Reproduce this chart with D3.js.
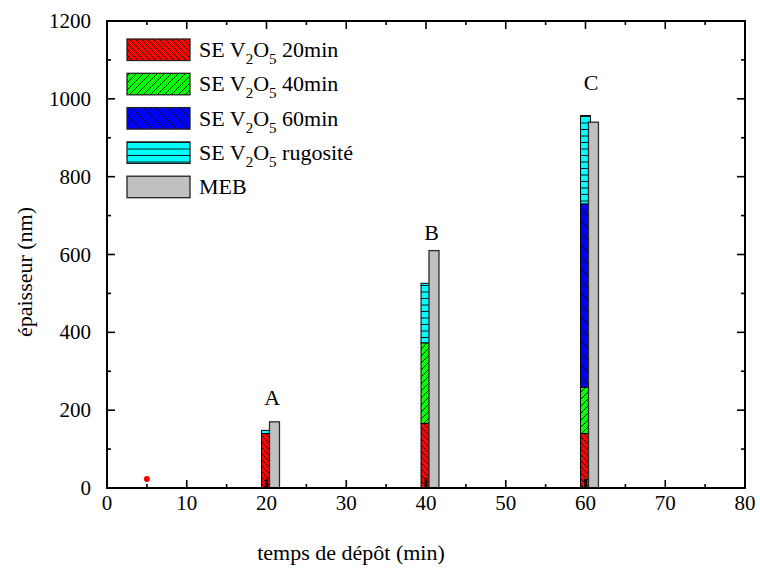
<!DOCTYPE html>
<html><head><meta charset="utf-8">
<script src="https://cdn.jsdelivr.net/npm/d3@7/dist/d3.min.js"></script>
<style>body{margin:0;background:#fff;}</style></head>
<body><svg id="c" width="760" height="570"></svg>
<script>
// ---- data ----
const times = [20, 40, 60];
const labels = ["A", "B", "C"];
const se20 = [140, 166, 140];
const se40 = [0, 207, 119];
const se60 = [0, 0, 471];
const rugosite = [8, 153, 227];
const meb = [170, 610, 940];
const innerSmall = [23, 25, 22];
const dotX = [5];
const dotY = [23];
const labelY = [234, 658, 1044];
const xTicks = [0, 10, 20, 30, 40, 50, 60, 70, 80];
const yTicks = [0, 200, 400, 600, 800, 1000, 1200];
const seriesNames = ["20min", "40min", "60min", "rugosité"];

const FONT = "Liberation Serif";
const svg = d3.select("#c");
const L = 107, R = 745, T = 21, B = 488;
const x = d3.scaleLinear().domain([0, 80]).range([L, R]);
const y = d3.scaleLinear().domain([0, 1200]).range([B, T]);
function txt(sel) { return sel.attr("font-family", FONT).style("font-family", "'Liberation Serif'"); }

// patterns
const defs = svg.append("defs");
function hatch(id, color, size, dir) {
  const p = defs.append("pattern").attr("id", id).attr("patternUnits", "userSpaceOnUse")
    .attr("width", size).attr("height", size);
  p.append("rect").attr("width", size).attr("height", size).attr("fill", color);
  const s = size;
  let d;
  if (dir === "back") d = `M0,0L${s},${s}M${-s/2},${s/2}L${s/2},${3*s/2}M${s/2},${-s/2}L${3*s/2},${s/2}`;
  else if (dir === "fwd") d = `M0,${s}L${s},0M${-s/2},${s/2}L${s/2},${-s/2}M${s/2},${3*s/2}L${3*s/2},${s/2}`;
  else d = `M0,${s-0.5}L${s},${s-0.5}`;
  p.append("path").attr("d", d).attr("stroke", "#000").attr("stroke-width", 0.9);
}
hatch("pRed", "#ff0000", 6, "back");
hatch("pGreen", "#00ff00", 7, "fwd");
hatch("pBlue", "#0000ff", 12, "back");
hatch("pCyan", "#00ffff", 6.5, "horiz");
const fills = ["url(#pRed)", "url(#pGreen)", "url(#pBlue)", "url(#pCyan)"];

// stacked bars
const stackData = times.map((t, i) => ({t, "20min": se20[i], "40min": se40[i], "60min": se60[i], "rugosité": rugosite[i]}));
const stack = d3.stack().keys(seriesNames)(stackData);
const bw = x(1.25) - x(0);
stack.forEach((layer, k) => {
  svg.append("g").selectAll("rect").data(layer.filter(d => d[1] - d[0] > 0)).join("rect")
    .attr("x", d => x(d.data.t) - bw / 2)
    .attr("width", bw)
    .attr("y", d => y(d[1]))
    .attr("height", d => y(d[0]) - y(d[1]))
    .attr("fill", fills[k])
    .attr("stroke", "#000").attr("stroke-width", 1);
});
// small inner bars
svg.append("g").selectAll("rect").data(times).join("rect")
  .attr("x", (t) => x(t) - 1)
  .attr("width", x(0.25) - x(0))
  .attr("y", (t, i) => y(innerSmall[i]))
  .attr("height", (t, i) => y(0) - y(innerSmall[i]))
  .attr("fill", "#ff0000").attr("stroke", "#000").attr("stroke-width", 0.8);
// MEB bars
svg.append("g").selectAll("rect").data(times).join("rect")
  .attr("x", t => x(t + 1) - bw / 2)
  .attr("width", bw)
  .attr("y", (t, i) => y(meb[i]))
  .attr("height", (t, i) => y(0) - y(meb[i]))
  .attr("fill", "#c0c0c0").attr("stroke", "#2a2a2a").attr("stroke-width", 1.3);

// red dot
svg.append("g").selectAll("circle").data(dotX).join("circle")
  .attr("cx", d => x(d)).attr("cy", (d, i) => y(dotY[i])).attr("r", 3).attr("fill", "#ff0000");

// labels A B C
txt(svg.append("g").selectAll("text").data(times).join("text"))
  .attr("x", (t) => x(t + 0.7)).attr("y", (t, i) => y(labelY[i]) + 8)
  .attr("text-anchor", "middle")
  .attr("font-size", 22).text((t, i) => labels[i]);

// ticks (inward, all four sides) drawn from scales
const xMinor = d3.range(0, 81, 5).filter(v => v % 10 !== 0);
const yMinor = d3.range(0, 1201, 100).filter(v => v % 200 !== 0);
const tg = svg.append("g").attr("stroke", "#000").attr("stroke-width", 1.6);
[[xTicks, 8], [xMinor, 4]].forEach(([vals, len]) => {
  tg.selectAll(null).data(vals).join("line").attr("x1", d => x(d)).attr("x2", d => x(d)).attr("y1", B).attr("y2", B - len);
  tg.selectAll(null).data(vals).join("line").attr("x1", d => x(d)).attr("x2", d => x(d)).attr("y1", T).attr("y2", T + len);
});
[[yTicks, 8], [yMinor, 4]].forEach(([vals, len]) => {
  tg.selectAll(null).data(vals).join("line").attr("y1", d => y(d)).attr("y2", d => y(d)).attr("x1", L).attr("x2", L + len);
  tg.selectAll(null).data(vals).join("line").attr("y1", d => y(d)).attr("y2", d => y(d)).attr("x1", R).attr("x2", R - len);
});

svg.append("rect").attr("x", L).attr("y", T).attr("width", R - L).attr("height", B - T)
  .attr("fill", "none").attr("stroke", "#000").attr("stroke-width", 2);

// tick labels
txt(svg.append("g").selectAll("text").data(xTicks).join("text"))
  .attr("x", d => x(d)).attr("y", B + 22).attr("text-anchor", "middle")
  .attr("font-size", 21).text(d => d);
txt(svg.append("g").selectAll("text").data(yTicks).join("text"))
  .attr("x", L - 16).attr("y", d => y(d) + 7).attr("text-anchor", "end")
  .attr("font-size", 21).text(d => d);

// axis titles
txt(svg.append("text")).attr("x", 351).attr("y", 560).attr("text-anchor", "middle")
  .attr("font-size", 22).text("temps de dépôt (min)");
txt(svg.append("text")).attr("transform", `translate(32,272) rotate(-90)`).attr("text-anchor", "middle")
  .attr("font-size", 22).text("épaisseur (nm)");

// legend
const legFills = ["url(#pRed)", "url(#pGreen)", "url(#pBlue)", "url(#pCyan)", "#c0c0c0"];
const legTexts = ["20min", "40min", "60min", "rugosité", null];
const lg = svg.append("g");
legFills.forEach((f, i) => {
  const yy = 39 + i * 34.3;
  lg.append("rect").attr("x", 127).attr("y", yy).attr("width", 63).attr("height", 21.5)
    .attr("fill", f).attr("stroke", "#222").attr("stroke-width", 1.3);
  const t = txt(lg.append("text")).attr("x", 199).attr("y", yy + 18).attr("font-size", 22);
  if (legTexts[i] === null) { t.text("MEB"); }
  else {
    t.append("tspan").text("SE V");
    t.append("tspan").attr("font-size", 15).attr("dy", 7).text("2");
    t.append("tspan").attr("dy", -7).text("O");
    t.append("tspan").attr("font-size", 15).attr("dy", 7).text("5");
    t.append("tspan").attr("dy", -7).text(" " + legTexts[i]);
  }
});
</script></body></html>
